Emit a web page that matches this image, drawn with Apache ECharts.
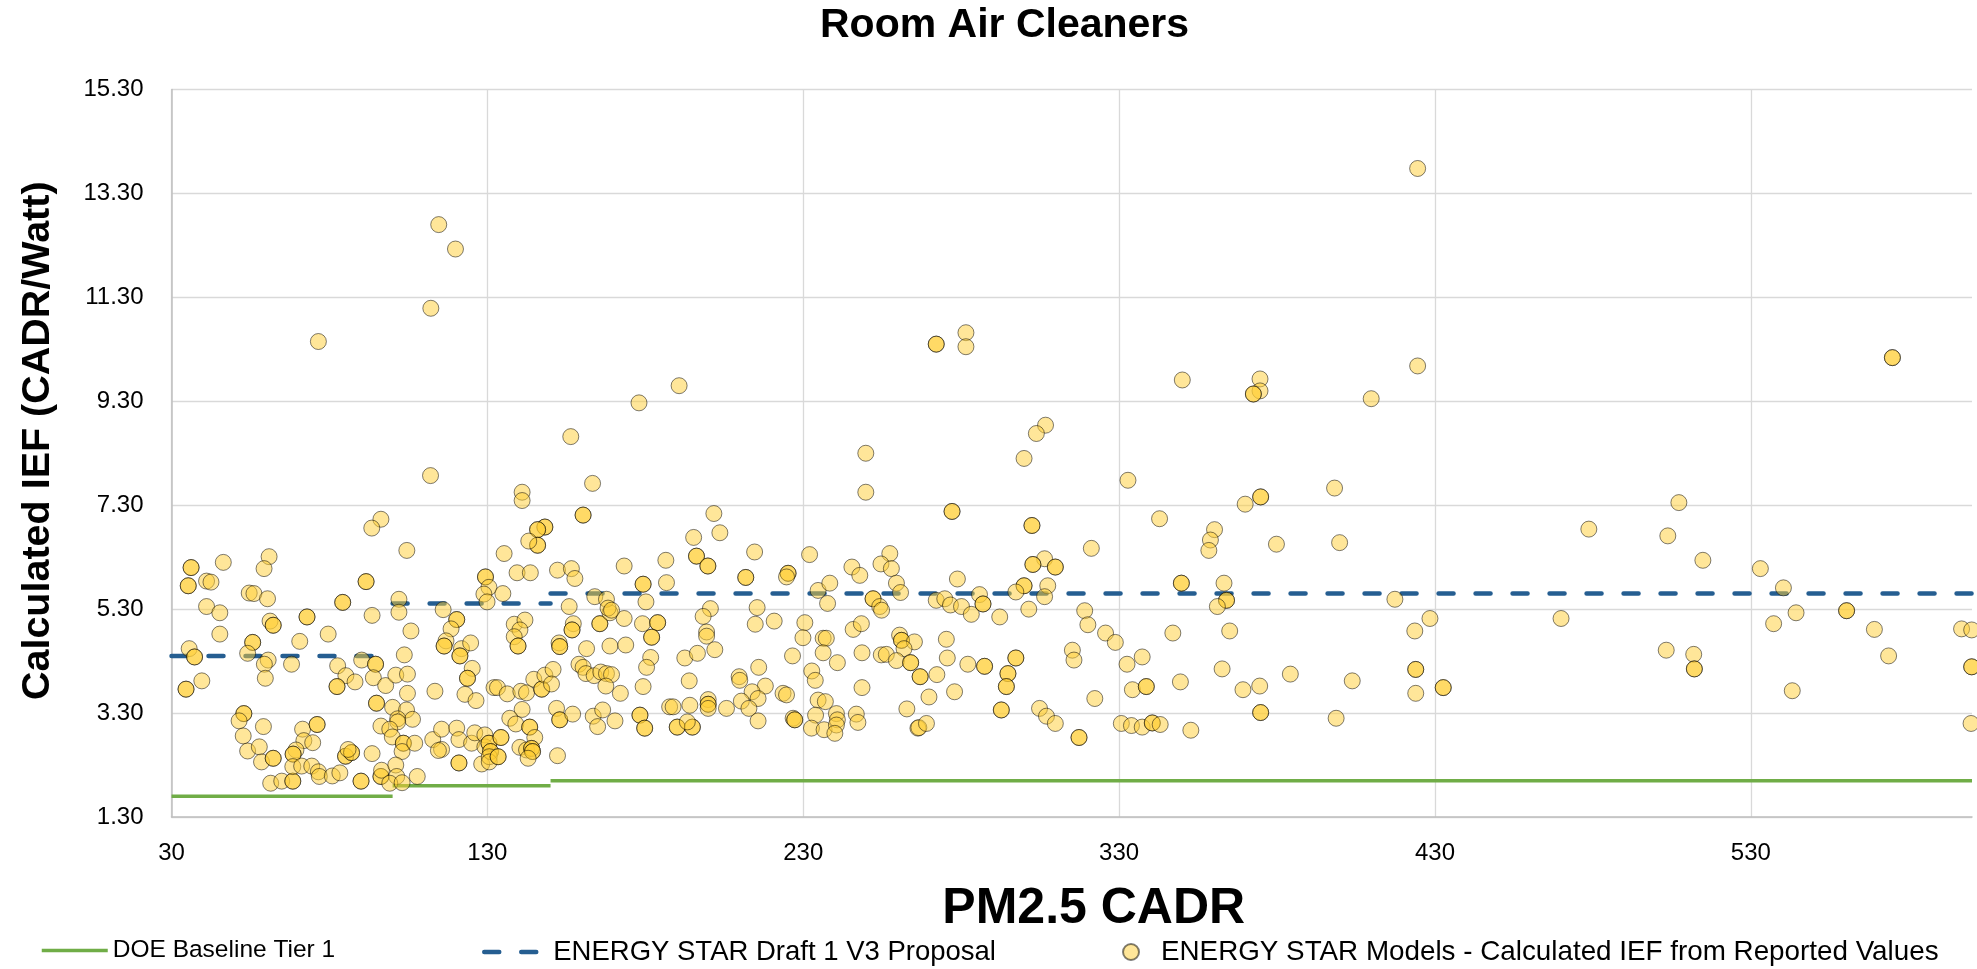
<!DOCTYPE html>
<html><head><meta charset="utf-8">
<script src="https://cdn.jsdelivr.net/npm/echarts@6/dist/echarts.min.js"></script>
<style>html,body{margin:0;padding:0;background:#fff}#c{width:1977px;height:969px}</style>
</head><body><div id="c"></div>
<script>
const titleText = 'Room Air Cleaners';
const xTitle = 'PM2.5 CADR';
const yTitle = 'Calculated IEF (CADR/Watt)';
const xTicks = [30, 130, 230, 330, 430, 530];
const yTicks = [1.3, 3.3, 5.3, 7.3, 9.3, 11.3, 13.3, 15.3];

const doeName = 'DOE Baseline Tier 1';
const doeStartX = [30, 100, 150];
const doeEndX = [100, 150, 600];
const doeIef = [1.70, 1.90, 2.00];

const esName = 'ENERGY STAR Draft 1 V3 Proposal';
const esStartX = [30, 100, 150];
const esEndX = [100, 150, 600];
const esIef = [4.40, 5.41, 5.60];

const modelName = 'ENERGY STAR Models - Calculated IEF from Reported Values';
const modelCadr = [
96.3, 93.4, 104.5, 36.2, 36.2, 46.4, 35.3, 35.3, 41.1, 42.5,
60.9, 59.3, 54.6, 56.1, 60.4, 41.1, 45.3, 72.9, 72.9, 84.2,
84.2, 91.6, 91.6, 102.0, 102.0, 93.5, 61.2, 62.2, 62.2, 45.3,
55.7, 55.7, 54.1, 35.6, 37.3, 37.3, 70.6, 79.6, 60.6, 59.4,
59.7, 68.0, 39.6, 34.6, 34.6, 82.6, 85.2, 88.1, 82.4, 82.4,
90.2, 94.6, 94.6, 93.9, 97.8, 101.0, 104.7, 103.7, 105.8, 104.7,
94.9, 94.9, 100.0, 104.4, 106.3, 101.6, 101.6, 96.3, 99.1, 99.9,
103.4, 103.4, 103.0, 107.0, 93.5, 52.9, 52.9, 51.4, 59.1, 52.7,
54.1, 57.8, 58.5, 62.2, 62.2, 61.4, 64.9, 68.4, 68.4, 71.5,
76.1, 76.1, 71.9, 74.7, 69.4, 68.5, 68.5, 68.4, 71.2, 74.4,
76.5, 76.8, 80.9, 83.3, 85.1, 85.1, 87.0, 87.0, 85.9, 90.0,
90.0, 96.3, 96.3, 96.5, 101.0, 101.3, 99.1, 103.0, 107.8, 114.6,
119.9, 112.1, 76.5, 112.0, 116.0, 120.3, 120.3, 118.5, 116.9, 116.3,
116.3, 121.8, 121.3, 121.3, 124.7, 125.2, 123.7, 123.7, 122.9, 126.4,
113.4, 112.7, 115.5, 115.5, 114.5, 120.3, 121.0, 121.0, 121.0, 125.0,
126.0, 128.2, 129.2, 129.2, 130.5, 130.5, 131.0, 131.0, 130.6, 130.6,
133.4, 133.4, 134.3, 134.3, 132.1, 133.2, 136.3, 138.5, 141.9, 140.3,
138.5, 139.7, 139.7, 140.6, 142.4, 144.7, 147.2, 147.2, 148.2, 150.8,
150.3, 141.0, 137.1, 139.0, 143.4, 143.4, 145.0, 140.3, 142.4, 144.0,
144.0, 144.3, 144.3, 142.9, 152.2, 151.9, 152.9, 152.9, 157.0, 152.7,
152.9, 152.9, 157.2, 156.8, 156.8, 165.6, 165.6, 168.8, 173.3, 161.4,
168.8, 173.8, 159.0, 160.3, 161.2, 163.8, 165.9, 167.7, 169.3, 167.5,
172.1, 163.5, 164.9, 166.5, 170.4, 179.1, 183.9, 183.9, 182.0, 182.0,
181.7, 180.4, 179.3, 178.3, 178.3, 179.8, 179.8, 187.7, 178.0, 156.4,
163.3, 141.0, 141.0, 160.3, 160.3, 148.2, 148.2, 145.9, 145.9, 145.9,
145.9, 143.1, 135.3, 139.4, 143.6, 152.2, 156.6, 157.7, 173.3, 186.5,
186.7, 179.3, 179.3, 180.2, 129.4, 129.4, 130.5, 128.9, 129.9, 134.9,
164.0, 167.7, 168.2, 169.3, 155.9, 190.7, 249.8, 249.8, 201.7, 203.6,
195.3, 196.2, 196.2, 199.8, 199.8, 214.6, 211.8, 211.8, 225.2, 225.2,
224.7, 232.0, 245.4, 247.9, 257.4, 254.6, 257.9, 259.5, 260.8, 252.1,
252.1, 254.2, 254.8, 234.7, 238.4, 237.7, 200.6, 198.3, 215.4, 199.4,
199.4, 214.8, 220.8, 230.5, 229.9, 236.3, 237.3, 236.3, 245.8, 248.4,
240.8, 248.6, 260.5, 261.1, 261.1, 265.2, 261.9, 254.7, 256.3, 259.5,
264.0, 264.0, 267.0, 267.0, 192.5, 196.5, 202.0, 226.6, 215.9, 232.7,
233.8, 193.9, 209.7, 209.9, 218.0, 213.8, 215.7, 210.4, 212.8, 215.7,
223.6, 224.7, 188.8, 194.1, 199.9, 199.9, 199.9, 199.9, 205.7, 190.1,
190.1, 194.9, 194.9, 193.3, 226.8, 227.3, 227.3, 248.6, 234.7, 237.0,
233.9, 232.6, 236.6, 240.5, 240.8, 240.5, 240.0, 246.8, 247.3, 262.8,
266.3, 306.7, 303.8, 299.9, 332.8, 342.8, 277.1, 277.1, 302.4, 302.4,
321.2, 306.4, 302.7, 302.7, 309.8, 309.8, 278.8, 299.9, 299.9, 297.3,
307.4, 306.4, 285.8, 272.1, 274.8, 276.6, 280.1, 283.2, 286.9, 286.9,
301.4, 319.1, 292.2, 320.1, 325.7, 328.8, 275.3, 275.6, 272.3, 269.8,
277.9, 282.1, 287.4, 287.4, 297.3, 297.3, 294.8, 294.8, 294.3, 294.3,
292.7, 292.7, 315.2, 315.7, 322.3, 304.8, 307.0, 309.8, 317.3, 317.3,
266.6, 269.0, 332.5, 337.3, 334.2, 338.6, 338.6, 330.7, 333.9, 337.3,
340.5, 340.5, 347.0, 272.1, 272.1, 281.5, 281.5, 409.8, 398.2, 374.8,
374.8, 369.9, 360.2, 358.9, 358.4, 379.8, 399.8, 349.7, 349.7, 363.2,
364.0, 364.0, 361.1, 417.3, 428.4, 423.6, 469.9, 365.0, 362.6, 349.4,
369.2, 374.5, 384.2, 403.8, 423.9, 423.9, 423.9, 432.6, 432.6, 374.8,
374.8, 398.7, 352.7, 343.0, 424.5, 574.8, 574.8, 424.5, 350.0, 374.6,
374.6, 372.5, 372.5, 478.7, 507.2, 503.7, 514.8, 533.0, 540.3, 544.3,
537.2, 560.3, 560.3, 569.1, 573.6, 596.7, 599.9, 599.9, 599.9, 599.7,
543.1, 503.2, 511.9, 512.1, 512.1
];
const modelIef = [
7.03, 6.86, 6.43, 6.10, 6.10, 6.20, 5.75, 5.75, 5.84, 5.82,
6.31, 6.08, 5.61, 5.60, 5.50, 5.35, 5.23, 5.15, 5.15, 5.43,
5.43, 5.83, 5.83, 5.49, 5.24, 5.18, 5.07, 4.99, 4.99, 4.82,
4.66, 4.66, 4.45, 4.54, 4.38, 4.38, 4.68, 4.82, 4.32, 4.24,
3.97, 4.24, 3.92, 3.76, 3.76, 4.21, 4.02, 3.90, 3.81, 3.81,
4.32, 4.24, 4.24, 3.98, 3.83, 4.03, 4.05, 4.42, 4.88, 3.68,
3.49, 3.49, 3.41, 3.36, 3.18, 3.19, 3.13, 3.05, 2.99, 2.84,
2.72, 2.72, 2.56, 2.72, 2.52, 3.29, 3.29, 3.15, 3.04, 2.86,
2.57, 2.65, 2.36, 2.43, 2.43, 1.95, 1.99, 1.99, 1.99, 2.99,
3.08, 3.08, 2.77, 2.73, 2.59, 2.51, 2.51, 2.27, 2.28, 2.28,
2.17, 2.08, 2.09, 2.15, 2.47, 2.47, 2.54, 2.54, 2.60, 1.99,
1.99, 2.08, 2.08, 2.20, 2.30, 2.08, 1.95, 1.96, 2.08, 12.70,
12.23, 11.09, 10.45, 7.87, 5.29, 5.10, 5.10, 4.92, 4.69, 4.59,
4.59, 4.54, 4.40, 4.40, 4.65, 4.16, 3.97, 3.97, 3.66, 3.54,
3.72, 2.79, 2.99, 2.60, 2.58, 3.01, 2.79, 2.34, 2.34, 2.72,
2.92, 2.32, 2.88, 2.65, 2.72, 2.72, 2.56, 2.56, 2.46, 2.36,
2.46, 2.46, 2.83, 2.83, 3.79, 3.79, 3.67, 5.01, 5.09, 4.90,
4.77, 4.59, 4.59, 3.72, 3.69, 3.95, 3.76, 3.76, 4.03, 4.14,
3.86, 3.37, 3.20, 3.09, 3.03, 3.03, 2.83, 2.64, 2.59, 2.62,
2.62, 2.56, 2.56, 2.43, 2.48, 3.39, 3.17, 3.17, 3.28, 4.65,
4.58, 4.58, 5.02, 4.90, 4.90, 5.02, 5.02, 5.23, 5.12, 4.54,
4.59, 4.61, 4.24, 4.18, 4.06, 4.02, 4.09, 4.06, 4.04, 3.82,
3.68, 3.24, 3.04, 3.36, 3.15, 5.02, 5.04, 5.04, 4.76, 4.76,
4.37, 4.18, 3.81, 3.26, 3.26, 3.01, 3.01, 3.42, 9.27, 8.62,
7.72, 7.55, 7.39, 7.11, 7.11, 6.88, 6.88, 6.83, 6.83, 6.53,
6.53, 6.61, 6.37, 6.00, 6.00, 6.05, 6.08, 5.89, 6.13, 6.24,
5.81, 5.78, 5.78, 5.44, 5.92, 5.92, 5.72, 5.59, 5.44, 5.60,
5.54, 5.49, 5.32, 5.28, 5.35, 9.60, 8.30, 7.55, 7.14, 6.77,
6.68, 6.32, 6.32, 6.13, 6.13, 6.40, 5.91, 5.91, 5.99, 5.99,
5.92, 6.35, 6.11, 5.95, 6.37, 6.17, 6.08, 5.80, 5.62, 5.50,
5.50, 5.35, 5.28, 5.66, 5.80, 5.41, 5.31, 5.16, 5.33, 4.86,
4.78, 5.01, 5.07, 5.04, 4.75, 4.74, 4.74, 4.46, 4.91, 5.02,
4.27, 4.46, 4.80, 4.70, 4.70, 4.67, 4.54, 4.42, 4.43, 4.31,
4.27, 4.27, 4.00, 4.00, 4.36, 4.45, 4.52, 4.40, 4.18, 4.11,
3.93, 3.92, 4.00, 3.93, 3.82, 3.71, 3.58, 3.53, 3.39, 3.15,
3.68, 3.65, 3.42, 3.45, 3.56, 3.47, 3.47, 3.39, 3.39, 3.03,
3.03, 3.03, 3.03, 3.13, 3.20, 3.17, 3.17, 3.79, 3.55, 3.52,
3.26, 3.01, 2.98, 3.29, 3.17, 3.07, 2.91, 3.28, 3.12, 3.38,
3.01, 8.84, 8.68, 8.20, 7.78, 7.04, 7.18, 7.18, 6.91, 6.91,
6.47, 6.27, 6.16, 6.16, 6.11, 6.11, 5.88, 5.75, 5.75, 5.63,
5.75, 5.54, 5.58, 5.47, 5.50, 5.38, 5.35, 5.20, 5.40, 5.40,
5.30, 5.27, 5.15, 5.00, 4.84, 4.66, 4.72, 4.36, 4.04, 3.61,
3.71, 4.24, 4.20, 4.20, 4.36, 4.36, 4.06, 4.06, 3.81, 3.81,
3.36, 3.36, 4.51, 4.32, 3.58, 3.39, 3.24, 3.10, 2.83, 2.83,
3.02, 3.10, 4.24, 4.38, 3.75, 3.81, 3.81, 3.10, 3.06, 3.03,
3.11, 3.11, 4.84, 10.40, 10.40, 10.62, 10.35, 9.35, 7.63, 7.46,
7.46, 7.32, 6.83, 6.63, 6.43, 6.55, 6.58, 5.80, 5.80, 5.80,
5.47, 5.47, 5.35, 5.49, 5.12, 4.88, 5.12, 4.88, 4.15, 3.90,
3.75, 3.82, 4.05, 3.92, 4.14, 4.14, 3.68, 3.79, 3.79, 3.31,
3.31, 3.20, 2.97, 3.08, 13.78, 10.14, 10.14, 9.98, 9.71, 9.73,
9.50, 9.44, 9.44, 6.84, 7.35, 6.71, 6.24, 6.08, 5.71, 5.23,
5.02, 5.27, 5.27, 4.91, 4.40, 4.92, 4.90, 4.19, 4.19, 3.10,
3.73, 4.51, 4.43, 4.15, 4.15
];

function steps(sx, ex, v) {
  const out = [];
  for (let i = 0; i < v.length; i++) {
    if (i > 0) out.push([sx[i], '-']);
    out.push([sx[i], v[i]]);
    out.push([ex[i], v[i]]);
  }
  return out;
}
const n = Math.min(modelCadr.length, modelIef.length);
if (modelCadr.length !== modelIef.length) console.error('length mismatch', modelCadr.length, modelIef.length);
const modelData = [];
for (let i = 0; i < n; i++) modelData.push([modelCadr[i], modelIef[i]]);

const FONT = '"Liberation Sans", Arial, sans-serif';
const chart = echarts.init(document.getElementById('c'), null, {renderer: 'canvas'});
function legendText(size) { return {fontFamily: FONT, fontSize: size, color: '#000'}; }
const legendBase = {top: 938, orient: 'horizontal', padding: 0, itemGap: 0};
chart.setOption({
  animation: false,
  backgroundColor: '#fff',
  textStyle: {fontFamily: FONT},
  title: {text: titleText, left: 820, top: 5, padding: 0,
    textStyle: {fontFamily: FONT, fontSize: 41, fontWeight: 'bold', color: '#000'}},
  grid: {left: 171.5, right: 5, top: 89.5, bottom: 152},
  legend: [
    Object.assign({}, legendBase, {left: 40, itemWidth: 66, itemHeight: 14, itemStyle: {opacity: 0},
      lineStyle: {width: 3.5, color: '#70AD47'},
      textStyle: legendText(24.5), data: [doeName]}),
    Object.assign({}, legendBase, {left: 482, itemWidth: 64, itemHeight: 14, itemStyle: {opacity: 0},
      lineStyle: {width: 4.5, color: '#255E91', type: [15, 22], cap: 'round'},
      textStyle: legendText(27.5), data: [esName]}),
    Object.assign({}, legendBase, {left: 1122, itemWidth: 50, itemHeight: 16,
      textStyle: legendText(27.8), data: [modelName]})
  ],
  xAxis: {
    type: 'value', min: 30, max: 600,
    name: xTitle, nameLocation: 'middle', nameGap: 67,
    nameTextStyle: {fontFamily: FONT, fontSize: 50, fontWeight: 'bold', color: '#000', padding: [0, 0, 0, 44]},
    axisLine: {show: true, lineStyle: {color: '#BFBFBF', width: 1.5}},
    axisTick: {show: false, customValues: xTicks},
    axisLabel: {customValues: xTicks, fontFamily: FONT, fontSize: 24, color: '#000', margin: 24},
    splitLine: {show: true, lineStyle: {color: '#D9D9D9', width: 1.3}}
  },
  yAxis: {
    type: 'value', min: 1.3, max: 15.3,
    name: yTitle, nameLocation: 'middle', nameGap: 113, nameRotate: 90,
    nameTextStyle: {fontFamily: FONT, fontSize: 39.5, fontWeight: 'bold', color: '#000', padding: [0, 0, 0, 25]},
    axisLine: {show: true, lineStyle: {color: '#BFBFBF', width: 1.5}},
    axisTick: {show: false, customValues: yTicks},
    axisLabel: {customValues: yTicks, fontFamily: FONT, fontSize: 24, color: '#000', margin: 28,
      formatter: v => Number(v).toFixed(2)},
    splitLine: {show: true, lineStyle: {color: '#D9D9D9', width: 1.3}}
  },
  series: [
    {name: doeName, type: 'line', data: steps(doeStartX, doeEndX, doeIef), symbol: 'none',
      connectNulls: false, lineStyle: {color: '#70AD47', width: 3.5}, itemStyle: {color: '#70AD47'}, z: 2},
    {name: esName, type: 'line', data: steps(esStartX, esEndX, esIef), symbol: 'none',
      connectNulls: false, lineStyle: {color: '#255E91', width: 4.5, type: [15, 22], cap: 'round'},
      itemStyle: {color: '#255E91'}, z: 2},
    {name: modelName, type: 'scatter', data: modelData, symbol: 'circle', symbolSize: 16,
      itemStyle: {color: 'rgba(255,205,51,0.5)', borderColor: 'rgba(0,0,0,0.5)', borderWidth: 1, opacity: 1},
      z: 3}
  ]
});
</script>
</body></html>
